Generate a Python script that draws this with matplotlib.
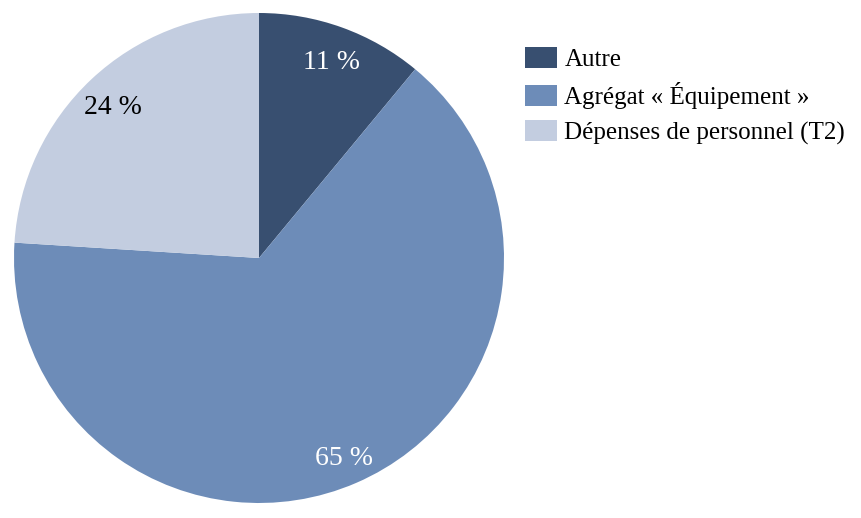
# -*- coding: utf-8 -*-
import matplotlib.pyplot as plt

# Données
categories = ["Autre", "Agrégat « Équipement »", "Dépenses de personnel (T2)"]
valeurs = [11, 65, 24]
etiquettes = ["11 %", "65 %", "24 %"]
couleurs = ["#384f70", "#6d8cb8", "#c3cde0"]
couleurs_texte = ["white", "white", "black"]

plt.rcParams["font.family"] = ["Liberation Serif", "DejaVu Serif"]

fig = plt.figure(figsize=(8.62, 5.18), dpi=100)
ax = fig.add_axes([14 / 862, 15 / 518, 490 / 862, 490 / 518])

parts, textes, autotextes = ax.pie(valeurs, colors=couleurs, startangle=90, counterclock=False,
                                   autopct="%1.0f", pctdistance=0.87,
                                   wedgeprops=dict(linewidth=0))
for t, lab, c in zip(autotextes, etiquettes, couleurs_texte):
    t.set_text(lab)
    t.set_color(c)
    t.set_fontsize(20)
    x, y = t.get_position()
    t.set_position((x, y - 0.02))
ax.set_xlim(-1, 1)
ax.set_ylim(-1, 1)
ax.set_aspect("equal")

fig.legend(parts, categories, loc="upper left", bbox_to_anchor=(515 / 862, 1 - 37 / 518),
           frameon=False, fontsize=18, handlelength=1.28, handleheight=0.92,
           handletextpad=0.3, labelspacing=0.44, borderaxespad=0)

fig.savefig("out.png", dpi=100)
